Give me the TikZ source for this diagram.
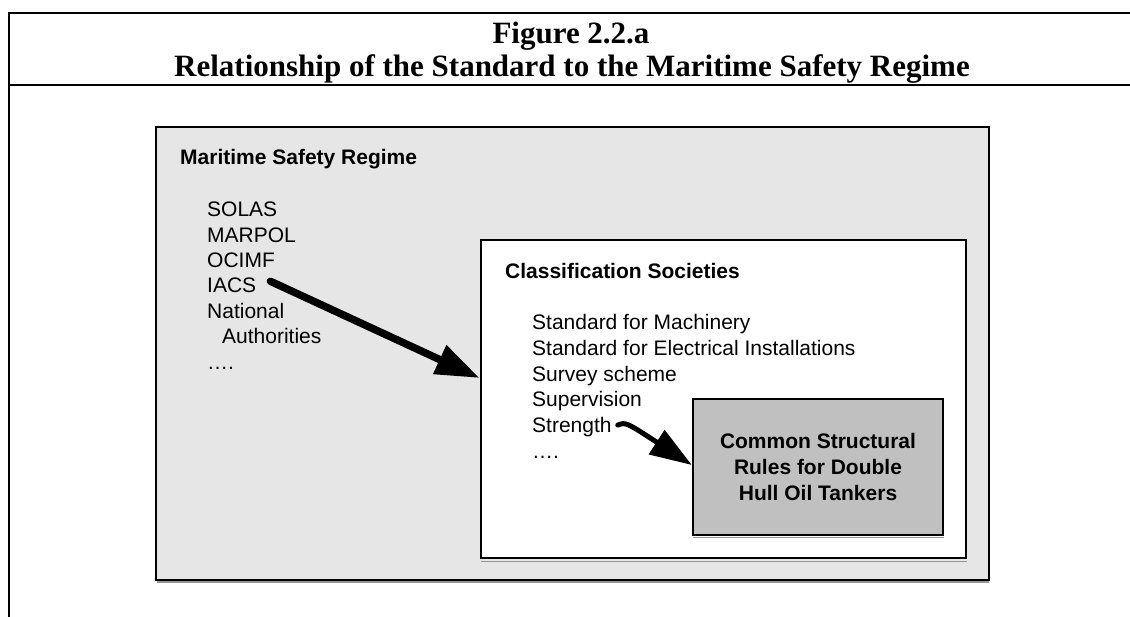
\documentclass[tikz,border=0pt]{standalone}
\usepackage{fontspec}
\setmainfont{Liberation Serif}
\setsansfont{Liberation Sans}
\usetikzlibrary{arrows.meta}
\definecolor{regimegray}{RGB}{230,230,230}
\definecolor{csrgray}{RGB}{192,192,192}
\definecolor{shadowgray}{RGB}{150,150,150}
\tikzset{
  frameline/.style={line width=2.4pt, black},
  titletext/.style={font=\fontsize{31}{35}\selectfont\bfseries, anchor=base, inner sep=0pt},
  boxtext/.style={font=\sffamily\fontsize{21}{25}\selectfont, anchor=base west, inner sep=0pt},
  boxhead/.style={font=\sffamily\bfseries\fontsize{21}{25}\selectfont, anchor=base west, inner sep=0pt},
  regimebox/.style={draw=black, line width=2.8pt, fill=regimegray, inner sep=0pt},
  classbox/.style={draw=black, line width=2.8pt, fill=white, inner sep=0pt},
  csrbox/.style={draw=black, line width=2.4pt, fill=csrgray, inner sep=0pt},
  shadowline/.style={draw=shadowgray, line width=1.2pt},
  bigarrow/.style={line width=7.5pt, line cap=round, -{Triangle[length=44pt,width=30pt]}},
  smallarrow/.style={line width=5pt, line cap=round, -{Triangle[length=42pt,width=28pt]}},
}
\begin{document}
\begin{tikzpicture}[x=1pt,y=-1pt]
\useasboundingbox (0,0) rectangle (1130,617);
% frame
\coordinate (ftl) at (9,13);
\coordinate (ftr) at (1130,13);
\coordinate (fbl) at (9,617);
\coordinate (dl) at (9,85);
\coordinate (dr) at (1130,85);
\draw[frameline] (ftr) -- (ftl) -- (fbl);
\draw[line width=2.2pt] (dl) -- (dr);
% title
\node[titletext] (fig) at (571,44) {Figure 2.2.a};
\node[titletext] (rel) at (572,77) {Relationship of the Standard to the Maritime Safety Regime};
% boxes
\draw[shadowline] (157,581.9) -- (989,581.9);
\node[regimebox, minimum width=833pt, minimum height=453pt] (regime) at (572.5,353.5) {};
\node[classbox, minimum width=485pt, minimum height=318pt] (class) at (723.5,399) {};
\draw[shadowline] ([shift={(1,1.8)}]class.south west) -- ([shift={(0,1.8)}]class.south east);
\node[csrbox, minimum width=250pt, minimum height=136pt] (csr) at (818,467) {};
\draw[shadowline] ([shift={(1,1.6)}]csr.south west) -- ([shift={(0,1.6)}]csr.south east);
% regime text
\node[boxhead] (rhead) at (180,165) {Maritime Safety Regime};
\node[boxtext] (solas) at (207,217) {SOLAS};
\node[boxtext] (marpol) at (207,242.5) {MARPOL};
\node[boxtext] (ocimf) at (207,268) {OCIMF};
\node[boxtext] (iacs) at (207,293) {IACS};
\node[boxtext] (natl) at (207,318.5) {National};
\node[boxtext] (auth) at (222,344) {Authorities};
\node[boxtext] (rdots) at (207,369.5) {….};
% class text
\node[boxhead] (chead) at (505,279) {Classification Societies};
\node[boxtext] (mach) at (532,330) {Standard for Machinery};
\node[boxtext] (elec) at (532,356) {Standard for Electrical Installations};
\node[boxtext] (surv) at (532,381.5) {Survey scheme};
\node[boxtext] (superv) at (532,407) {Supervision};
\node[boxtext] (strength) at (532,432.5) {Strength};
\node[boxtext] (cdots) at (532,458) {….};
% csr text
\node[font=\sffamily\bfseries\fontsize{21}{26}\selectfont, align=center, inner sep=0pt] (csrtext) at (csr.center) {Common Structural\\Rules for Double\\Hull Oil Tankers};
% arrows
\coordinate (a1) at ([shift={(14,-4.5)}]iacs.east);
\coordinate (a2) at (class.west |- 0,378);
\draw[bigarrow] (a1) -- (a2);
\coordinate (b1) at ([shift={(6,-2)}]strength.east);
\coordinate (b2) at (csr.west |- 0,465);
\draw[smallarrow] (b1) .. controls ([shift={(8,-3)}]b1) .. (b2);
\end{tikzpicture}
\end{document}
